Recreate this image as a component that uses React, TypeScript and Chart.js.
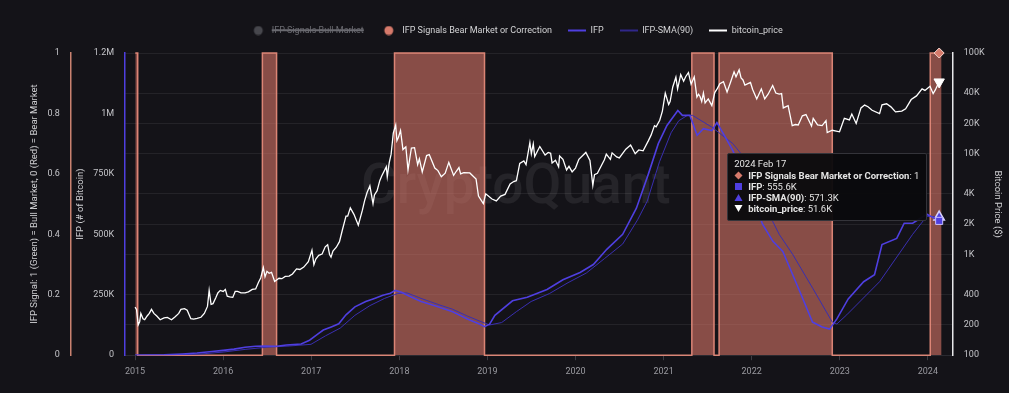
import React, { useEffect, useRef } from 'react';
import { Chart, registerables, Tooltip } from 'chart.js';

Chart.register(...registerables);

const BG = '#141318';
const TOOLTIP_DATE = '2024-02-17';
const X_MIN = 2014.887;
const X_MAX = 2024.283;

const yearTicks = [2015, 2016, 2017, 2018, 2019, 2020, 2021, 2022, 2023, 2024];
const btcTicks = [100, 200, 400, 1000, 2000, 4000, 10000, 20000, 40000, 100000];

// IFP signal transitions (value holds from the date until the next date)
const signalDates = ['2015-01-02', '2015-01-12', '2016-06-12', '2016-08-10', '2017-12-12', '2018-12-20', '2021-04-28', '2021-07-29', '2021-08-19', '2022-12-01', '2024-01-11', '2024-02-17', '2024-02-27'];
const bearSignal = [1, 0, 1, 0, 1, 0, 1, 0, 1, 0, 1, 1, 1];
const bullSignal = [0, 1, 0, 1, 0, 1, 0, 1, 0, 1, 0, 0, 0];

const ifpDates = ['2015-01-01', '2015-05-01', '2015-07-15', '2015-09-15', '2015-11-15', '2016-01-01', '2016-02-15', '2016-04-01', '2016-05-15', '2016-06-20', '2016-08-10', '2016-09-20', '2016-11-20', '2016-12-25', '2017-01-25', '2017-02-20', '2017-03-25', '2017-04-25', '2017-05-25', '2017-07-01', '2017-08-15', '2017-09-20', '2017-10-25', '2017-11-25', '2017-12-15', '2018-01-10', '2018-02-10', '2018-04-01', '2018-06-10', '2018-08-10', '2018-10-10', '2018-12-01', '2018-12-20', '2019-01-10', '2019-02-01', '2019-04-15', '2019-06-15', '2019-09-05', '2019-11-10', '2020-01-20', '2020-03-15', '2020-05-10', '2020-07-15', '2020-09-10', '2020-10-30', '2020-12-10', '2021-01-15', '2021-03-01', '2021-03-20', '2021-04-20', '2021-05-20', '2021-06-15', '2021-07-20', '2021-08-10', '2021-09-15', '2021-10-15', '2021-12-15', '2022-02-15', '2022-03-30', '2022-05-10', '2022-06-20', '2022-07-25', '2022-09-10', '2022-10-20', '2022-11-20', '2022-12-20', '2023-02-05', '2023-04-10', '2023-05-25', '2023-06-25', '2023-08-25', '2023-09-25', '2023-10-30', '2023-12-28', '2024-02-17'];
const ifpValues = [0, 1500, 5000, 9000, 15000, 20000, 25000, 33000, 37000, 38000, 37000, 42000, 46000, 62000, 85000, 104000, 117000, 130000, 167000, 200000, 222000, 235000, 248000, 256000, 268000, 260000, 245000, 222000, 200000, 180000, 150000, 128000, 118000, 128000, 165000, 225000, 240000, 272000, 312000, 342000, 375000, 438000, 500000, 608000, 750000, 875000, 950000, 1012000, 992000, 992000, 910000, 937000, 929000, 962000, 900000, 846000, 708000, 542000, 471000, 429000, 333000, 250000, 137000, 117000, 108000, 150000, 233000, 304000, 333000, 458000, 483000, 546000, 546000, 583000, 555600];

const smaDates = ['2015-01-01', '2015-06-01', '2015-10-01', '2016-01-01', '2016-04-01', '2016-07-01', '2016-10-01', '2016-12-31', '2017-03-01', '2017-05-01', '2017-07-01', '2017-09-01', '2017-11-01', '2017-12-25', '2018-02-01', '2018-04-01', '2018-06-10', '2018-08-10', '2018-10-10', '2018-12-10', '2019-01-10', '2019-03-01', '2019-05-01', '2019-07-01', '2019-09-15', '2019-12-01', '2020-02-15', '2020-05-01', '2020-07-15', '2020-09-15', '2020-10-25', '2020-12-15', '2021-02-01', '2021-03-05', '2021-04-10', '2021-05-01', '2021-07-22', '2021-10-15', '2021-12-12', '2022-02-15', '2022-04-25', '2022-06-20', '2022-09-12', '2022-12-01', '2022-12-20', '2023-01-30', '2023-06-15', '2023-10-30', '2023-12-28', '2024-02-17'];
const smaValues = [0, 1000, 5000, 13000, 24000, 33000, 38000, 45000, 80000, 112000, 165000, 205000, 235000, 255000, 258000, 235000, 210000, 190000, 162000, 137000, 125000, 135000, 180000, 222000, 255000, 300000, 340000, 400000, 460000, 560000, 637000, 800000, 920000, 970000, 992000, 992000, 942000, 875000, 804000, 637000, 500000, 417000, 275000, 137000, 129000, 167000, 304000, 500000, 575000, 571300];

const btcDates = [
  '2015-01-01', '2015-01-07', '2015-01-14', '2015-01-20', '2015-01-25', '2015-02-03', '2015-02-10', '2015-02-20', '2015-03-01', '2015-03-10', '2015-03-20', '2015-04-01', '2015-04-15', '2015-05-01', '2015-05-15', '2015-06-01', '2015-06-15', '2015-07-01', '2015-07-10', '2015-07-25', '2015-08-05', '2015-08-20', '2015-09-01', '2015-09-15', '2015-10-01', '2015-10-15', '2015-10-28', '2015-11-04', '2015-11-12', '2015-11-20', '2015-12-01', '2015-12-10', '2015-12-20',
  '2016-01-01', '2016-01-10', '2016-01-18', '2016-01-28', '2016-02-10', '2016-02-20', '2016-03-01', '2016-03-15', '2016-04-01', '2016-04-15', '2016-05-01', '2016-05-15', '2016-05-27', '2016-06-05', '2016-06-16', '2016-06-23', '2016-07-01', '2016-07-10', '2016-07-20', '2016-08-02', '2016-08-20', '2016-09-01', '2016-09-15', '2016-10-01', '2016-10-15', '2016-11-01', '2016-11-15', '2016-12-01', '2016-12-20',
  '2017-01-04', '2017-01-12', '2017-01-20', '2017-02-01', '2017-02-15', '2017-02-28', '2017-03-10', '2017-03-18', '2017-03-24', '2017-04-01', '2017-04-15', '2017-04-28', '2017-05-10', '2017-05-25', '2017-06-01', '2017-06-12', '2017-06-27', '2017-07-15', '2017-08-01', '2017-08-10', '2017-08-20', '2017-09-01', '2017-09-14', '2017-09-20', '2017-10-01', '2017-10-12', '2017-10-20', '2017-11-08', '2017-11-12', '2017-11-20', '2017-11-28', '2017-12-07', '2017-12-17', '2017-12-22', '2017-12-28',
  '2018-01-06', '2018-01-16', '2018-01-28', '2018-02-06', '2018-02-20', '2018-03-05', '2018-03-18', '2018-03-25', '2018-04-06', '2018-04-24', '2018-05-05', '2018-05-28', '2018-06-10', '2018-06-24', '2018-07-10', '2018-07-25', '2018-08-14', '2018-08-25', '2018-09-05', '2018-09-12', '2018-09-25', '2018-10-20', '2018-11-15', '2018-11-25', '2018-12-15', '2018-12-25',
  '2019-01-05', '2019-01-20', '2019-02-07', '2019-02-25', '2019-03-15', '2019-04-05', '2019-04-20', '2019-05-01', '2019-05-15', '2019-06-01', '2019-06-10', '2019-06-26', '2019-07-02', '2019-07-10', '2019-07-16', '2019-08-06', '2019-08-28', '2019-09-10', '2019-09-20', '2019-09-26', '2019-10-10', '2019-10-23', '2019-10-27', '2019-11-10', '2019-11-25', '2019-12-05', '2019-12-18',
  '2020-01-01', '2020-01-15', '2020-02-13', '2020-03-01', '2020-03-13', '2020-03-20', '2020-04-01', '2020-04-30', '2020-05-08', '2020-05-25', '2020-06-01', '2020-06-20', '2020-07-01', '2020-07-28', '2020-08-17', '2020-09-05', '2020-09-20', '2020-10-08', '2020-10-30', '2020-11-10', '2020-11-24', '2020-12-01', '2020-12-16', '2020-12-27',
  '2021-01-08', '2021-01-22', '2021-01-28', '2021-02-08', '2021-02-21', '2021-02-28', '2021-03-13', '2021-03-25', '2021-04-03', '2021-04-14', '2021-04-25', '2021-05-08', '2021-05-12', '2021-05-19', '2021-05-26', '2021-06-01', '2021-06-08', '2021-06-15', '2021-06-22', '2021-07-05', '2021-07-20', '2021-08-01', '2021-08-12', '2021-08-22', '2021-09-06', '2021-09-21', '2021-10-05', '2021-10-20', '2021-10-28', '2021-11-10', '2021-11-18', '2021-11-26', '2021-12-04', '2021-12-27',
  '2022-01-05', '2022-01-22', '2022-02-10', '2022-02-24', '2022-03-10', '2022-03-29', '2022-04-11', '2022-04-25', '2022-05-05', '2022-05-12', '2022-06-01', '2022-06-18', '2022-07-01', '2022-07-13', '2022-07-30', '2022-08-14', '2022-09-06', '2022-09-13', '2022-10-01', '2022-10-20', '2022-11-05', '2022-11-10', '2022-12-01', '2022-12-31',
  '2023-01-20', '2023-02-10', '2023-02-20', '2023-03-10', '2023-03-30', '2023-04-14', '2023-04-28', '2023-05-15', '2023-06-15', '2023-06-25', '2023-07-14', '2023-08-01', '2023-08-20', '2023-09-15', '2023-10-01', '2023-10-24', '2023-11-15', '2023-12-08', '2023-12-20',
  '2024-01-10', '2024-01-23', '2024-02-01', '2024-02-10', '2024-02-17',
];
const btcPrices = [
  300, 285, 200, 215, 260, 230, 225, 245, 260, 285, 260, 245, 225, 235, 237, 225, 240, 260, 285, 290, 280, 230, 228, 232, 238, 260, 305, 440, 320, 325, 370, 415, 440,
  430, 450, 385, 380, 375, 430, 430, 415, 415, 425, 450, 455, 530, 585, 740, 600, 680, 650, 665, 540, 580, 575, 605, 610, 640, 720, 710, 750, 850,
  1100, 790, 900, 980, 1010, 1190, 1250, 1000, 940, 1080, 1180, 1340, 1750, 2400, 2400, 2900, 2500, 1950, 2750, 3400, 4100, 4800, 3200, 3900, 4300, 5400, 6000, 7400, 5900, 8100, 9900, 16000, 19300, 13500, 14500,
  17000, 11000, 11700, 6900, 11400, 11500, 7800, 8900, 6600, 9600, 9800, 7200, 6800, 5900, 6400, 8200, 6100, 6700, 7300, 6300, 6500, 6450, 5600, 3800, 3200, 4000,
  3800, 3550, 3400, 3800, 3950, 5000, 5300, 5400, 8000, 8500, 7800, 12900, 10000, 12500, 9400, 11800, 9700, 10300, 10100, 8100, 8600, 7400, 9500, 8800, 6900, 7500, 6600,
  7200, 8800, 10300, 8600, 4850, 6200, 6400, 8700, 9900, 8800, 10200, 9300, 9100, 11100, 12200, 10000, 10900, 10700, 13500, 15300, 19000, 18500, 21500, 26500,
  40000, 30800, 33000, 46000, 57500, 44000, 61000, 52500, 58500, 64000, 49000, 58000, 49000, 36500, 39000, 37000, 33000, 40000, 32000, 35000, 30000, 40500, 44500, 49500, 52000, 41000, 51000, 65000, 58000, 68000, 56500, 54000, 48000, 51000,
  43500, 35000, 44000, 35000, 39000, 47500, 40000, 39000, 39500, 28500, 30000, 19000, 19500, 19300, 23800, 24500, 18800, 22400, 19300, 19000, 21300, 16200, 17100, 16500,
  22500, 21700, 24800, 20000, 28500, 30400, 29300, 27000, 25000, 30600, 31300, 29200, 26000, 26500, 27900, 34500, 37500, 44000, 42500,
  46800, 39500, 43000, 47800, 51600,
];

const MONTHS = ['Jan', 'Feb', 'Mar', 'Apr', 'May', 'Jun', 'Jul', 'Aug', 'Sep', 'Oct', 'Nov', 'Dec'];

function toYear(s: string): number {
  const [y, m, d] = s.split('-').map(Number);
  const t0 = Date.UTC(y, 0, 1);
  const t1 = Date.UTC(y + 1, 0, 1);
  return y + (Date.UTC(y, m - 1, d) - t0) / (t1 - t0);
}
function pts(dates: string[], vals: number[]) {
  return dates.map((d, i) => ({ x: toYear(d), y: vals[i], d }));
}
function fmtDate(s: string) {
  const [y, m, d] = s.split('-').map(Number);
  return `${y} ${MONTHS[m - 1]} ${d}`;
}
function fmtVal(v: number) {
  if (v >= 1e6) return (v / 1e6).toFixed(1) + 'M';
  if (v >= 1000) return (v / 1000).toFixed(1) + 'K';
  return String(v);
}
function fmtAxisK(v: number) {
  if (v >= 1e6) return Math.floor(v / 1e5) / 10 + 'M';
  if (v >= 1000) return v / 1000 + 'K';
  return String(v);
}

const C_BEAR = '#d67a6b';
const C_BULL = '#47474d';
const C_IFP = '#4f3fe0';
const C_SMA = '#3a2fb0';
const C_BTC = '#ffffff';

const ICONS: Record<number, string> = {
  1: `<svg width="9" height="9"><path d="M4.5 0.5L8.5 4.5L4.5 8.5L0.5 4.5Z" fill="${C_BEAR}"/></svg>`,
  2: `<svg width="9" height="9"><rect x="1" y="1" width="7" height="7" fill="${C_IFP}"/></svg>`,
  3: `<svg width="9" height="9"><path d="M4.5 1L8.5 8L0.5 8Z" fill="${C_IFP}"/></svg>`,
  4: `<svg width="9" height="9"><path d="M0.5 1L8.5 1L4.5 8Z" fill="#ffffff"/></svg>`,
};

(Tooltip as any).positioners.cqFixed = function (items: any[]) {
  if (!items.length) return false;
  const a = this.chart.chartArea;
  return { x: items[0].element.x, y: a.top + a.height * 0.445 };
};

const externalTooltip = (context: any) => {
  const { chart, tooltip } = context;
  const host = chart.canvas.parentNode as HTMLElement;
  let el = host.querySelector('.cq-tip') as HTMLDivElement | null;
  if (!el) {
    el = document.createElement('div');
    el.className = 'cq-tip';
    Object.assign(el.style, {
      position: 'absolute',
      background: 'rgba(10,10,13,0.96)',
      border: '1px solid #34343a',
      borderRadius: '2px',
      color: '#e4e4e4',
      font: '9.5px Roboto, "Noto Sans", sans-serif',
      lineHeight: '11px',
      padding: '4px 7px 6px 6px',
      whiteSpace: 'nowrap',
      pointerEvents: 'none',
    });
    host.appendChild(el);
  }
  if (tooltip.opacity === 0 || !tooltip.dataPoints || !tooltip.dataPoints.length) {
    el.style.display = 'none';
    return;
  }
  const items = [...tooltip.dataPoints].sort((a: any, b: any) => a.datasetIndex - b.datasetIndex);
  const title = fmtDate(items[0].raw.d);
  const rows = items
    .map(
      (it: any) =>
        `<div style="display:flex;align-items:center;height:11px"><span style="display:inline-flex;width:9px;height:9px;margin-right:5px">${ICONS[it.datasetIndex] || ''}</span><b>${it.dataset.label}</b>: ${fmtVal(it.raw.y)}</div>`
    )
    .join('');
  el.innerHTML = `<div style="height:12px">${title}</div>${rows}`;
  el.style.display = 'block';
  el.style.left = tooltip.caretX - 12 - el.offsetWidth + 'px';
  el.style.top = tooltip.caretY - el.offsetHeight / 2 + 'px';
};

const watermark = {
  id: 'cqWatermark',
  beforeDatasetsDraw(chart: any) {
    const { ctx, chartArea: a } = chart;
    ctx.save();
    ctx.font = '500 55px Roboto, "Noto Sans", sans-serif';
    ctx.fillStyle = 'rgba(255,255,255,0.075)';
    ctx.textAlign = 'center';
    ctx.textBaseline = 'middle';
    ctx.fillText('CryptoQuant', a.left + a.width * 0.472, a.top + a.height * 0.45);
    ctx.restore();
  },
};

// adds a gap between the legend and the plot area
const legendGap = {
  id: 'legendGap',
  beforeLayout(chart: any) {
    const lg = chart.legend;
    if (lg && !lg.__gapPatched) {
      const orig = lg.fit;
      lg.fit = function () {
        orig.call(this);
        this.height += 8;
      };
      lg.__gapPatched = true;
    }
  },
};

function makeIcon(kind: 'dot' | 'line', color: string, w = 2) {
  const c = document.createElement('canvas');
  c.width = 18;
  c.height = 10;
  const g = c.getContext('2d')!;
  if (kind === 'dot') {
    g.fillStyle = color;
    g.beginPath();
    g.arc(9, 5, 4.5, 0, Math.PI * 2);
    g.fill();
  } else {
    g.strokeStyle = color;
    g.lineWidth = w;
    g.beginPath();
    g.moveTo(0, 5);
    g.lineTo(18, 5);
    g.stroke();
  }
  return c;
}

export default function App() {
  const canvasRef = useRef<HTMLCanvasElement>(null);

  useEffect(() => {
    document.body.style.margin = '0';
    document.body.style.background = BG;
    Chart.defaults.font.family = 'Roboto, "Noto Sans", sans-serif';
    Chart.defaults.font.size = 9;
    Chart.defaults.color = '#c4c4c8';

    const legendIcons: Record<number, any> = {
      0: makeIcon('dot', C_BULL),
      1: makeIcon('dot', C_BEAR),
      2: makeIcon('line', C_IFP, 2),
      3: makeIcon('line', C_SMA, 1.5),
      4: makeIcon('line', C_BTC, 2),
    };

    const titleFont = { size: 9.5 };

    const chart = new Chart(canvasRef.current!, {
      type: 'line',
      data: {
        datasets: [
          {
            label: 'IFP Signals Bull Market',
            data: pts(signalDates, bullSignal),
            yAxisID: 'sig',
            hidden: true,
            stepped: true,
            fill: 'origin',
            borderColor: C_BULL,
            backgroundColor: 'rgba(90,90,96,0.5)',
            borderWidth: 1.5,
            pointRadius: 0,
            order: 5,
          },
          {
            label: 'IFP Signals Bear Market or Correction',
            data: pts(signalDates, bearSignal),
            yAxisID: 'sig',
            stepped: true,
            fill: 'origin',
            clip: false,
            borderColor: 'rgba(228,138,122,0.95)',
            backgroundColor: 'rgba(214,116,104,0.6)',
            borderWidth: 1.5,
            pointRadius: 0,
            pointStyle: 'rectRot',
            pointHoverRadius: 5,
            pointHoverBackgroundColor: C_BEAR,
            pointHoverBorderColor: '#f6d6cf',
            pointHoverBorderWidth: 1,
            order: 5,
          },
          {
            label: 'IFP',
            data: pts(ifpDates, ifpValues),
            yAxisID: 'ifp',
            borderColor: C_IFP,
            backgroundColor: C_IFP,
            borderWidth: 1.6,
            pointRadius: 0,
            pointStyle: 'rect',
            pointHoverRadius: 5,
            pointHoverBackgroundColor: C_IFP,
            pointHoverBorderColor: '#c8c0ff',
            pointHoverBorderWidth: 1,
            order: 1,
          },
          {
            label: 'IFP-SMA(90)',
            data: pts(smaDates, smaValues),
            yAxisID: 'ifp',
            borderColor: C_SMA,
            backgroundColor: C_SMA,
            borderWidth: 1,
            pointRadius: 0,
            pointStyle: 'triangle',
            pointHoverRadius: 6,
            pointHoverBackgroundColor: C_IFP,
            pointHoverBorderColor: '#d6d0ff',
            pointHoverBorderWidth: 1.5,
            order: 1,
          },
          {
            label: 'bitcoin_price',
            data: pts(btcDates, btcPrices),
            yAxisID: 'btc',
            borderColor: C_BTC,
            backgroundColor: C_BTC,
            borderWidth: 1.3,
            pointRadius: 0,
            pointStyle: 'triangle',
            rotation: 180,
            pointHoverRadius: 6,
            pointHoverBackgroundColor: '#ffffff',
            pointHoverBorderColor: '#ffffff',
            pointHoverBorderWidth: 1,
            order: 1,
          },
        ] as any,
      },
      options: {
        responsive: false,
        animation: false,
        events: [],
        layout: { padding: { top: 10, left: 25, right: 2, bottom: 10 } },
        plugins: {
          legend: {
            position: 'top',
            align: 'center',
            labels: {
              usePointStyle: true,
              pointStyleWidth: 18,
              boxHeight: 9,
              padding: 16,
              font: { size: 9 },
              color: '#d4d4d6',
              sort: (a: any, b: any) => a.datasetIndex - b.datasetIndex,
              generateLabels: (ch: any) => {
                const base = (Chart.defaults.plugins.legend.labels as any).generateLabels(ch);
                return base.map((it: any) => ({
                  ...it,
                  pointStyle: legendIcons[it.datasetIndex],
                  fontColor: it.hidden ? '#6a6a70' : '#d4d4d6',
                  lineWidth: 0,
                }));
              },
            },
          },
          tooltip: {
            enabled: false,
            position: 'cqFixed' as any,
            external: externalTooltip,
          },
        },
        scales: {
          x: {
            type: 'linear',
            min: X_MIN,
            max: X_MAX,
            afterBuildTicks: (s: any) => {
              s.ticks = yearTicks.map((v) => ({ value: v }));
            },
            ticks: {
              callback: (v: any) => String(v),
              color: '#9a9aa0',
              font: { size: 9 },
              padding: 6,
              maxRotation: 0,
              autoSkip: false,
            },
            grid: { drawOnChartArea: false, color: '#3c3c42', tickLength: 5 },
            border: { color: '#2a2a30' },
          },
          sig: {
            type: 'linear',
            position: 'left',
            weight: 2,
            min: 0,
            max: 1,
            ticks: {
              stepSize: 0.2,
              font: { size: 9 },
              color: '#c4c4c8',
              padding: 3,
              callback: (v: any) => String(Number(Number(v).toFixed(1))),
            },
            grid: { drawOnChartArea: false, color: 'transparent', tickLength: 8 },
            border: { display: true, color: '#c98270', width: 1.5 },
            title: {
              display: true,
              text: 'IFP Signal: 1 (Green) = Bull Market, 0 (Red) = Bear Market',
              color: '#cdcdd0',
              font: titleFont,
              padding: { top: 4, bottom: 4 },
            },
          },
          ifp: {
            type: 'linear',
            position: 'left',
            weight: 1,
            min: 0,
            max: 1250000,
            ticks: {
              stepSize: 250000,
              font: { size: 9 },
              color: '#c4c4c8',
              padding: 3,
              callback: (v: any) => fmtAxisK(Number(v)),
            },
            grid: { drawOnChartArea: false, color: 'transparent', tickLength: 8 },
            border: { display: true, color: C_IFP, width: 1.5 },
            title: {
              display: true,
              text: 'IFP (# of Bitcoin)',
              color: '#cdcdd0',
              font: titleFont,
              padding: { top: 4, bottom: 4 },
            },
          },
          btc: {
            type: 'logarithmic',
            position: 'right',
            min: 100,
            max: 100000,
            afterBuildTicks: (s: any) => {
              s.ticks = btcTicks.map((v) => ({ value: v }));
            },
            ticks: {
              font: { size: 9 },
              color: '#c4c4c8',
              padding: 3,
              callback: (v: any) => fmtAxisK(Number(v)),
            },
            grid: { color: 'rgba(255,255,255,0.07)', tickColor: 'transparent', tickLength: 8 },
            border: { display: true, color: '#e8e8ea', width: 1.5 },
            title: {
              display: true,
              text: 'Bitcoin Price ($)',
              color: '#cdcdd0',
              font: titleFont,
              padding: { top: 4, bottom: 4 },
            },
          },
        },
      } as any,
      plugins: [watermark, legendGap],
    });

    const active = [
      { datasetIndex: 1, index: signalDates.indexOf(TOOLTIP_DATE) },
      { datasetIndex: 2, index: ifpDates.indexOf(TOOLTIP_DATE) },
      { datasetIndex: 3, index: smaDates.indexOf(TOOLTIP_DATE) },
      { datasetIndex: 4, index: btcDates.indexOf(TOOLTIP_DATE) },
    ];
    chart.setActiveElements(active);
    chart.tooltip!.setActiveElements(active, { x: 0, y: 0 });
    chart.update();

    return () => {
      chart.destroy();
      const host = canvasRef.current?.parentNode as HTMLElement | null;
      host?.querySelector('.cq-tip')?.remove();
    };
  }, []);

  return (
    <div style={{ position: 'relative', width: 1009, height: 393, background: BG }}>
      <canvas ref={canvasRef} width={1009} height={393} style={{ display: 'block' }} />
    </div>
  );
}
